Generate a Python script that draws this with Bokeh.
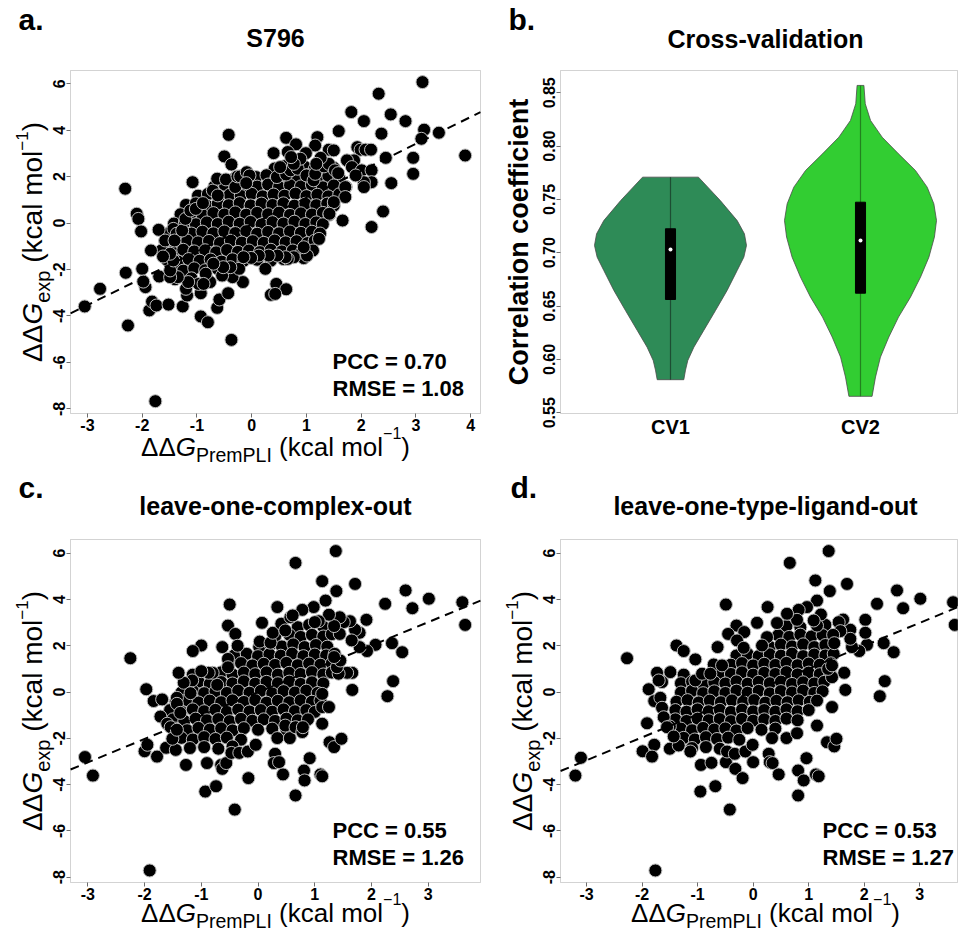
import math
from bokeh.plotting import figure
from bokeh.models import (Label, FixedTicker, LinearAxis, BoxAnnotation, Range1d,
                          PrintfTickFormatter)
from bokeh.layouts import gridplot
from bokeh.embed import file_html
from bokeh.resources import INLINE

FONT = "Liberation Sans"

# ---------------- data ----------------
# Panel a: S796, predicted (x) vs experimental (y)
A_OUTER = [(3.12,6.07),(2.32,5.57),(1.82,4.78),(2.54,4.68),(2.05,4.39),(2.81,4.39),(1.59,3.96),(3.15,4.02),
 (3.42,3.89),(2.37,3.85),(3.10,3.63),(3.90,2.91),(2.95,2.81),(2.45,2.81),(2.95,2.12),(2.55,1.72),(2.40,0.50),
 (2.19,-0.17),(1.66,0.11),(-0.42,3.80),(-0.50,2.87),(-0.37,2.52),(-2.31,1.48),(-1.08,1.76),(-2.10,0.40),
 (-2.07,0.18),(-2.02,-0.36),(-1.70,-0.29),(-2.30,-2.14),(-2.00,-1.97),(-2.77,-2.83),(-3.05,-3.59),(-2.26,-4.41),
 (-1.94,-2.76),(-1.98,-2.52),(-1.87,-3.76),(-1.82,-3.38),(-1.74,-3.55),(-1.52,-3.51),(-1.69,-2.30),(-1.84,-1.18),
 (-1.26,-3.59),(-0.93,-4.02),(-0.80,-4.27),(-0.37,-5.03),(-1.76,-7.67),(-0.63,-3.65),(-0.59,-3.29),(-0.43,-3.02),
 (-0.93,-3.02),(-1.18,-3.12),(-1.20,-2.83),(0.35,-3.09),(0.45,-2.62),(0.63,-2.85),(0.43,-3.05),(0.25,-1.97),
 (-0.76,-2.54),(-0.16,-2.54),(-0.35,-2.33),(-0.54,-2.26),(-0.23,-1.97),(0.40,3.01),(0.63,3.67),(1.20,3.70),
 (1.16,3.34),(0.81,3.39),(0.66,3.06),(0.99,3.01),(1.41,3.16),(1.50,3.13),(1.93,3.27),(1.99,3.16),(2.08,3.16),
 (2.18,3.16),(1.87,2.70),(1.74,2.70),(1.83,2.41),(2.01,2.27),(2.19,2.27),(2.19,1.76),(2.05,1.76),(2.05,1.55),
 (1.90,2.05),(1.71,1.55),(1.71,1.12),(1.50,0.90),(1.42,0.40),(1.23,-0.68),(1.12,-1.18),(0.95,-1.51),(1.01,-1.40),
 (0.95,-1.04),(0.77,-1.47),(0.66,-1.54),(0.62,-1.47),(0.47,-1.40),(0.31,-1.40),(0.13,-1.40),(-0.01,-1.50),
 (-0.15,-1.47),(-0.39,-1.90),(-0.52,-1.90),(-0.70,-1.75),(-0.84,-2.18),(-0.97,-2.62),(-0.88,-2.62),(-1.16,-2.54),
 (-1.35,-2.33),(-1.49,-2.33),(-1.49,-2.04),(-1.43,-1.61),(-1.49,-1.32),(-1.62,-1.44),(-1.58,-0.75),(-1.43,-0.25),
 (-1.37,-0.46),(-1.41,-0.75),(-1.27,-0.32),(-1.21,0.18),(-1.12,0.54),(-1.02,0.61),(-0.89,0.86),(-0.71,1.40),
 (-0.62,1.19),(-0.63,1.91),(-0.47,1.88),(-0.30,1.55),(-0.26,2.01),(-0.21,2.01),(-0.09,2.19),(-0.04,2.05),
 (-0.10,1.72),(0.46,1.98),(0.63,2.09),(0.71,2.27),(0.84,2.34),(1.00,2.05),(1.13,1.84),(1.16,2.12),(1.32,2.44),
 (1.41,2.55),(1.52,2.27),(1.58,2.15),(1.26,2.81),(1.18,2.55),(0.89,2.77),(0.77,2.55),(0.72,2.84),(0.52,2.41)]
A_CORE = [(0.42,2.35),(0.60,2.45),(0.78,2.38),(0.97,2.42),(1.15,2.33),(1.33,2.45),(1.50,2.38),
 (-0.30,1.95),(-0.12,2.05),(0.08,1.98),(0.27,2.06),(0.45,1.94),(0.64,2.02),(0.83,1.96),(1.02,2.07),(1.20,1.97),(1.40,2.03),(1.60,1.95),
 (-0.68,1.58),(-0.49,1.65),(-0.30,1.55),(-0.10,1.62),(0.10,1.57),(0.30,1.66),(0.50,1.55),(0.70,1.63),(0.90,1.58),(1.10,1.65),(1.30,1.54),(1.50,1.62),(1.72,1.56),
 (-0.98,1.18),(-0.80,1.25),(-0.60,1.15),(-0.40,1.22),(-0.20,1.17),(0.00,1.26),(0.20,1.15),(0.40,1.23),(0.60,1.18),(0.80,1.27),(1.00,1.16),(1.20,1.22),(1.40,1.15),(1.60,1.24),
 (-1.20,0.78),(-1.02,0.85),(-0.82,0.75),(-0.62,0.83),(-0.42,0.77),(-0.22,0.86),(-0.02,0.76),(0.18,0.84),(0.38,0.78),(0.58,0.85),(0.78,0.75),(0.98,0.83),(1.18,0.77),(1.38,0.84),(1.50,0.75),
 (-1.30,0.38),(-1.10,0.45),(-0.90,0.35),(-0.70,0.43),(-0.50,0.37),(-0.30,0.46),(-0.10,0.36),(0.10,0.44),(0.30,0.38),(0.50,0.45),(0.70,0.35),(0.90,0.42),(1.10,0.37),(1.30,0.44),(1.42,0.36),
 (-1.42,-0.02),(-1.22,0.05),(-1.02,-0.05),(-0.82,0.03),(-0.62,-0.04),(-0.42,0.06),(-0.22,-0.03),(-0.02,0.05),(0.18,-0.06),(0.38,0.04),(0.58,-0.02),(0.78,0.06),(0.98,-0.04),(1.18,0.03),(1.30,-0.05),
 (-1.50,-0.42),(-1.30,-0.35),(-1.10,-0.45),(-0.90,-0.37),(-0.70,-0.44),(-0.50,-0.36),(-0.30,-0.43),(-0.10,-0.35),(0.10,-0.46),(0.30,-0.38),(0.50,-0.44),(0.70,-0.36),(0.90,-0.42),(1.10,-0.37),(1.25,-0.45),
 (-1.58,-0.78),(-1.38,-0.85),(-1.18,-0.75),(-0.98,-0.83),(-0.78,-0.77),(-0.58,-0.86),(-0.38,-0.76),(-0.18,-0.84),(0.02,-0.78),(0.22,-0.85),(0.42,-0.75),(0.62,-0.83),(0.82,-0.78),(1.02,-0.86),(1.15,-0.76),
 (-1.65,-1.18),(-1.45,-1.25),(-1.25,-1.15),(-1.05,-1.22),(-0.85,-1.17),(-0.65,-1.26),(-0.45,-1.16),(-0.25,-1.24),(-0.05,-1.18),(0.15,-1.25),(0.35,-1.15),(0.55,-1.22),(0.75,-1.18),(0.92,-1.25),
 (-1.55,-1.58),(-1.35,-1.65),(-1.15,-1.55),(-0.95,-1.62),(-0.75,-1.57),(-0.55,-1.66),(-0.35,-1.56),(-0.15,-1.63),(0.10,-1.58),(0.35,-1.62),(0.58,-1.55),
 (-1.45,-1.98),(-1.25,-2.05),(-1.05,-1.95),(-0.85,-2.03),(-0.62,-1.97),(-0.45,-2.06),
 (-1.40,-2.42),(-1.10,-2.38),(-0.80,-2.45)]

# Panel c: leave-one-complex-out
C_OUTER = [(1.37,6.09),(0.66,5.58),(1.13,4.79),(1.71,4.67),(1.38,4.36),(2.60,4.39),(3.01,4.03),(3.60,3.88),
 (3.65,2.90),(2.24,3.81),(2.72,3.62),(1.19,3.95),(0.98,3.67),(0.78,3.55),(0.34,3.67),(-0.50,3.78),(-0.53,2.87),
 (-0.40,2.51),(-0.36,2.00),(-1.00,2.01),(-1.15,1.77),(-2.25,1.46),(-1.97,0.12),(-1.84,-0.39),(-1.69,-0.32),
 (-1.72,-1.06),(-2.00,-2.56),(-1.95,-2.28),(-1.78,-2.79),(-3.05,-2.81),(-2.91,-3.61),(-1.62,-2.41),(-1.45,-2.50),
 (-1.27,-3.15),(-0.90,-3.07),(-0.93,-4.30),(-0.74,-4.07),(-0.65,-3.15),(-0.63,-3.32),(-0.56,-3.07),(-0.47,-2.63),
 (-0.33,-2.63),(-0.17,-3.72),(-0.41,-5.08),(-1.91,-7.71),(-0.18,-2.57),(-0.04,-2.28),(0.30,-2.67),(0.28,-3.07),
 (0.37,-3.03),(0.44,-3.56),(0.66,-4.47),(0.81,-3.39),(0.82,-3.82),(0.91,-2.86),(1.10,-3.56),(1.13,-3.64),
 (1.26,-2.17),(1.34,-2.38),(1.47,-2.02),(0.34,-1.99),(0.56,-1.99),(0.48,-1.45),(0.66,-1.52),(0.78,-1.73),
 (0.79,-1.52),(1.13,-1.37),(1.13,-0.65),(1.25,-0.65),(1.13,-0.08),(1.66,0.09),(1.66,0.83),(1.57,0.83),(1.42,0.79),
 (1.39,1.07),(1.45,1.36),(1.34,1.51),(2.28,-0.18),(2.38,0.47),(2.54,1.72),(2.36,2.11),(2.07,2.04),(1.92,1.77),
 (1.79,1.94),(1.91,3.12),(1.79,2.56),(1.71,2.69),(1.65,2.23),(1.62,3.06),(1.51,3.02),(1.44,3.23),(1.44,2.51),
 (1.34,2.85),(1.25,3.34),(1.07,3.06),(1.00,3.02),(0.07,2.99),(0.03,2.18),(0.22,2.13),(0.26,2.56),(0.41,2.95),
 (0.48,2.66),(0.57,3.23),(0.61,3.31),(-0.63,1.94),(-0.53,1.43),(-0.53,1.07),(-0.72,0.31),(-0.80,0.83),(-0.87,0.83),
 (-1.00,0.90),(-1.16,0.50),(-1.31,0.40),(-1.40,0.83),(-1.19,-0.05),(-1.43,-0.25),(-1.43,-0.51),(-1.60,-1.37),
 (-1.54,-1.52),(-1.51,-2.02),(-1.43,-1.63),(-1.37,-0.90)]
C_CORE = [(0.70,2.80),(0.90,2.90),(1.15,2.82),
 (0.30,2.40),(0.55,2.48),(0.75,2.38),(0.95,2.47),(1.15,2.40),(1.30,2.50),
 (0.02,1.95),(0.22,2.05),(0.42,1.97),(0.62,2.06),(0.82,1.94),(1.02,2.03),(1.22,1.96),
 (-0.42,1.58),(-0.20,1.65),(0.00,1.55),(0.20,1.63),(0.40,1.57),(0.60,1.66),(0.80,1.55),(1.00,1.62),(1.20,1.58),(1.35,1.65),
 (-0.52,1.18),(-0.30,1.25),(-0.10,1.15),(0.10,1.22),(0.30,1.17),(0.50,1.26),(0.70,1.16),(0.90,1.23),(1.10,1.18),(1.30,1.24),
 (-1.15,0.75),(-0.65,0.85),(-0.45,0.76),(-0.25,0.84),(-0.05,0.77),(0.15,0.85),(0.35,0.75),(0.55,0.83),(0.75,0.78),(0.95,0.86),(1.15,0.76),(1.30,0.84),
 (-1.25,0.38),(-1.05,0.45),(-0.85,0.35),(-0.65,0.43),(-0.45,0.37),(-0.25,0.46),(-0.05,0.36),(0.15,0.44),(0.35,0.38),(0.55,0.45),(0.75,0.35),(0.95,0.42),(1.15,0.37),
 (-1.35,-0.02),(-1.15,0.05),(-0.95,-0.05),(-0.75,0.03),(-0.55,-0.04),(-0.35,0.06),(-0.15,-0.03),(0.05,0.05),(0.25,-0.06),(0.45,0.04),(0.65,-0.02),(0.85,0.06),(1.05,-0.04),
 (-1.45,-0.42),(-1.25,-0.35),(-1.05,-0.45),(-0.85,-0.37),(-0.65,-0.44),(-0.45,-0.36),(-0.25,-0.43),(-0.05,-0.35),(0.15,-0.46),(0.35,-0.38),(0.55,-0.44),(0.75,-0.36),(0.95,-0.42),(1.10,-0.37),
 (-1.55,-0.78),(-1.35,-0.85),(-1.15,-0.75),(-0.95,-0.83),(-0.75,-0.77),(-0.55,-0.86),(-0.35,-0.76),(-0.15,-0.84),(0.05,-0.78),(0.25,-0.85),(0.45,-0.75),(0.65,-0.83),(0.85,-0.78),(1.00,-0.86),
 (-1.50,-1.18),(-1.30,-1.25),(-1.10,-1.15),(-0.90,-1.22),(-0.70,-1.17),(-0.50,-1.26),(-0.30,-1.16),(-0.10,-1.24),(0.10,-1.18),(0.30,-1.25),(0.50,-1.15),(0.70,-1.22),(0.88,-1.18),
 (-1.45,-1.58),(-1.25,-1.65),(-1.05,-1.55),(-0.85,-1.62),(-0.65,-1.57),(-0.45,-1.66),(-0.25,-1.56),(0.00,-1.63),(0.25,-1.58),(0.50,-1.62),
 (-1.35,-1.98),(-1.15,-2.05),(-0.95,-1.95),(-0.75,-2.03),(-0.55,-1.97),(-0.30,-2.06),
 (-1.20,-2.42),(-0.95,-2.38),(-0.70,-2.45),(-0.45,-2.35)]

# Panel d: leave-one-type-ligand-out
D_OUTER = [(1.36,6.09),(0.66,5.58),(1.12,4.82),(1.69,4.67),(1.38,4.36),(2.59,4.39),(3.01,4.03),(3.60,3.88),
 (3.63,2.90),(2.23,3.81),(2.70,3.62),(1.15,3.95),(0.97,3.67),(0.82,3.55),(0.26,3.67),(-0.49,3.78),(-0.30,2.87),
 (-0.45,2.51),(-0.16,2.59),(0.07,2.99),(-1.38,2.01),(-1.25,1.77),(-2.27,1.46),(-1.04,1.41),(-1.88,0.12),
 (-1.78,-0.39),(-1.67,-0.25),(-1.91,-1.35),(-1.99,-2.56),(-1.78,-2.28),(-1.82,-2.79),(-3.10,-2.84),(-3.20,-3.61),
 (-1.50,-2.45),(-1.34,-2.31),(-1.13,-2.57),(-0.94,-3.15),(-0.95,-4.30),(-0.68,-4.07),(-0.75,-3.06),(-0.49,-3.03),
 (-0.32,-3.32),(-0.19,-3.72),(-0.42,-5.08),(-1.76,-7.71),(-0.47,-2.57),(-0.33,-2.67),(-0.14,-2.57),(0.00,-3.03),
 (-0.01,-2.28),(0.28,-2.67),(0.30,-3.03),(0.35,-3.07),(0.46,-3.56),(0.81,-4.47),(0.81,-3.39),(0.91,-3.82),
 (0.96,-2.86),(1.13,-3.56),(1.18,-3.64),(1.33,-2.17),(1.46,-2.35),(1.50,-2.02),(0.34,-1.99),(0.60,-1.99),
 (0.79,-1.78),(1.15,-1.45),(1.42,-0.65),(1.66,0.09),(1.64,0.83),(1.42,0.64),(1.35,1.00),(1.42,1.15),(2.37,0.47),
 (2.28,-0.18),(2.53,1.72),(2.35,2.11),(2.05,2.04),(1.91,1.77),(1.78,1.94),(2.02,3.12),(2.02,2.56),(1.75,2.69),
 (1.75,2.30),(1.62,3.13),(1.54,3.02),(1.22,3.35),(1.57,2.63),(1.44,2.47),(1.46,2.11),(1.15,2.87),(1.09,3.09),
 (0.79,3.12),(0.43,2.98),(0.61,3.38),(0.25,2.37),(0.16,2.01),(-0.64,1.94),(-0.29,2.23),(-0.17,1.91),(-0.71,1.19),
 (-0.56,1.15),(-1.04,0.50),(-0.92,0.79),(-0.77,0.79),(-1.73,0.83),(-1.49,0.86),(-1.64,0.43),(-1.70,0.50),
 (-1.64,-0.68),(-1.61,-1.09),(-1.50,-1.49),(-1.55,-1.52),(-1.43,-1.92)]
D_CORE = [(0.60,2.85),(0.85,2.80),(1.30,2.90),
 (0.45,2.45),(0.65,2.38),(0.85,2.48),(1.05,2.40),(1.25,2.46),
 (0.30,1.95),(0.50,2.05),(0.70,1.97),(0.90,2.06),(1.10,1.94),(1.30,2.03),
 (-0.30,1.58),(-0.10,1.65),(0.10,1.55),(0.30,1.63),(0.50,1.57),(0.70,1.66),(0.90,1.55),(1.10,1.62),(1.30,1.58),(1.45,1.65),
 (-0.40,1.18),(-0.20,1.25),(0.00,1.15),(0.20,1.22),(0.40,1.17),(0.60,1.26),(0.80,1.16),(1.00,1.23),(1.20,1.18),(1.40,1.24),
 (-1.25,0.75),(-0.60,0.83),(-0.40,0.78),(-0.20,0.85),(0.00,0.75),(0.20,0.83),(0.40,0.78),(0.60,0.86),(0.80,0.76),(1.00,0.84),(1.20,0.77),(1.38,0.85),
 (-1.30,0.38),(-1.10,0.45),(-0.90,0.35),(-0.70,0.43),(-0.50,0.37),(-0.30,0.46),(-0.10,0.36),(0.10,0.44),(0.30,0.38),(0.50,0.45),(0.70,0.35),(0.90,0.42),(1.10,0.37),(1.28,0.44),
 (-1.30,-0.02),(-1.10,0.05),(-0.90,-0.05),(-0.70,0.03),(-0.50,-0.04),(-0.30,0.06),(-0.10,-0.03),(0.10,0.05),(0.30,-0.06),(0.50,0.04),(0.70,-0.02),(0.90,0.06),(1.10,-0.04),(1.25,0.03),
 (-1.38,-0.42),(-1.18,-0.35),(-0.98,-0.45),(-0.78,-0.37),(-0.58,-0.44),(-0.38,-0.36),(-0.18,-0.43),(0.02,-0.35),(0.22,-0.46),(0.42,-0.38),(0.62,-0.44),(0.82,-0.36),(1.02,-0.42),(1.15,-0.37),
 (-1.40,-0.78),(-1.20,-0.85),(-1.00,-0.75),(-0.80,-0.83),(-0.60,-0.77),(-0.40,-0.86),(-0.20,-0.76),(0.00,-0.84),(0.20,-0.78),(0.40,-0.85),(0.60,-0.75),(0.80,-0.83),(1.00,-0.78),
 (-1.40,-1.18),(-1.20,-1.25),(-1.00,-1.15),(-0.80,-1.22),(-0.60,-1.17),(-0.40,-1.26),(-0.20,-1.16),(0.00,-1.24),(0.20,-1.18),(0.40,-1.25),(0.60,-1.15),(0.80,-1.22),
 (-1.30,-1.58),(-1.10,-1.65),(-0.90,-1.55),(-0.70,-1.62),(-0.50,-1.57),(-0.30,-1.66),(-0.10,-1.56),(0.15,-1.63),(0.40,-1.58),
 (-1.25,-1.98),(-1.05,-2.05),(-0.85,-1.95),(-0.65,-2.03),(-0.45,-1.97),(-0.25,-2.06),
 (-1.10,-2.42),(-0.85,-2.38),(-0.60,-2.45)]

# regression lines (intercept, slope) and statistics
A_FIT = (-0.06, 1.157)
C_FIT = (-0.01, 1.01)
D_FIT = (0.02, 0.99)
STATS = {"a": ("0.70", "1.08"), "c": ("0.55", "1.26"), "d": ("0.53", "1.27")}
TITLES = {"a": "S796", "b": "Cross-validation", "c": "leave-one-complex-out", "d": "leave-one-type-ligand-out"}
SCATTER_YTICKS = [-8, -6, -4, -2, 0, 2, 4, 6]

# Panel b: violin profiles (value, half-width) and box statistics
CV_NAMES = ["CV1", "CV2"]
CV1_LEVELS = [0.581, 0.590, 0.599, 0.6115, 0.6272, 0.6459, 0.6647, 0.6834, 0.6959, 0.7069, 0.7178, 0.7302, 0.749, 0.7709]
CV1_HALF   = [0.070, 0.079, 0.091, 0.123, 0.175, 0.237, 0.298, 0.351, 0.386, 0.400, 0.389, 0.351, 0.262, 0.147]
CV2_LEVELS = [0.5654, 0.5835, 0.6022, 0.621, 0.6397, 0.6584, 0.6772, 0.6959, 0.7147, 0.7303, 0.7459, 0.7615, 0.7772, 0.7928, 0.8084, 0.824, 0.8397, 0.8569]
CV2_HALF   = [0.061, 0.079, 0.105, 0.149, 0.200, 0.263, 0.316, 0.360, 0.389, 0.400, 0.386, 0.351, 0.289, 0.200, 0.114, 0.053, 0.025, 0.018]
CV_Q1 = [0.6562, 0.6621]
CV_Q3 = [0.7225, 0.7474]
CV_MED = [0.703, 0.7115]
CV_FILL = ["#2E8B57", "#32CD32"]
CV_MID = ["#1d4d33", "#23801f"]
CV_YTICKS = [0.55, 0.60, 0.65, 0.70, 0.75, 0.80, 0.85]

# ---------------- helpers ----------------
NB = "\u00a0"
ADV = {"Δ": 0.668, "G": 0.778, "P": 0.667, "r": 0.333, "e": 0.556, "m": 0.833, "L": 0.556, "I": 0.278,
       " ": 0.278, NB: 0.278, "(": 0.333, ")": 0.333, "k": 0.5, "c": 0.5, "a": 0.556, "l": 0.222,
       "o": 0.556, "x": 0.5, "p": 0.556, "−": 0.584, "1": 0.556}
MID = 0.35   # distance from alphabetic baseline to the em-box middle, in em


def tw(s, size):
    return sum(ADV.get(ch, 0.556) for ch in s) * size


class Panel:
    """A figure whose frame covers the whole canvas; the R-style plot box is drawn inside."""

    def __init__(self, w, h, box_px, box_data, xticks, yticks, xfmt, yfmt):
        L, R, T, B = box_px
        xlo, xhi, ylo, yhi = box_data
        ux = (xhi - xlo) / (R - L)
        uy = (yhi - ylo) / (B - T)
        self.ox, self.oy = L, h - B          # box origin (screen, from bottom-left)
        self.box = box_data
        p = figure(width=w, height=h,
                   x_range=Range1d(xlo - L * ux, xhi + (w - R) * ux),
                   y_range=Range1d(ylo - (h - B) * uy, yhi + T * uy),
                   output_backend="svg", toolbar_location=None,
                   x_axis_location=None, y_axis_location=None, min_border=0)
        p.outline_line_color = None
        p.background_fill_color = "white"
        p.border_fill_color = "white"
        p.xgrid.visible = False
        p.ygrid.visible = False
        xa = LinearAxis(fixed_location=ylo, ticker=FixedTicker(ticks=xticks), formatter=xfmt)
        ya = LinearAxis(fixed_location=xlo, ticker=FixedTicker(ticks=yticks), formatter=yfmt)
        for ax in (xa, ya):
            ax.axis_line_color = None
            ax.major_tick_line_color = "#6e6e6e"
            ax.major_tick_out = 4
            ax.major_tick_in = 0
            ax.minor_tick_line_color = None
            ax.major_label_text_font = FONT
            ax.major_label_text_font_style = "bold"
            ax.major_label_text_font_size = "16px"
            ax.major_label_text_color = "black"
            ax.major_label_standoff = 1
        ya.major_label_orientation = "vertical"
        p.add_layout(xa, "below")
        p.add_layout(ya, "left")
        self.xaxis, self.yaxis = xa, ya
        self.p = p

    def frame_box(self):
        xlo, xhi, ylo, yhi = self.box
        self.p.add_layout(BoxAnnotation(left=xlo, right=xhi, bottom=ylo, top=yhi, fill_color=None,
                                        line_color="#6e6e6e", line_width=1))

    def label(self, dx, dy, text, size, style="normal", align="left", vertical=False):
        # (dx, dy): position of the alphabetic baseline relative to the plot box origin
        if vertical:
            x, y, ang = self.ox + dx - MID * size, self.oy + dy, math.pi / 2
        else:
            x, y, ang = self.ox + dx, self.oy + dy + MID * size, 0.0
        self.p.add_layout(Label(x=x, y=y, x_units="screen", y_units="screen",
                                text=text, text_font=FONT, text_font_size=f"{size}px",
                                text_font_style=style, text_align=align, text_baseline="middle",
                                angle=ang, text_color="black"))

    def rich(self, pieces, center, base, vertical=False):
        total = sum(tw(t, s) for t, s, st, sh in pieces)
        pos = center - total / 2.0
        for t, s, st, sh in pieces:
            if vertical:
                self.label(base + sh, pos, t, s, st, vertical=True)
            else:
                self.label(pos, base - sh, t, s, st)
            pos += tw(t, s)


XLAB = [("ΔΔ", 26, "normal", 0), ("G", 26, "italic", 0), ("PremPLI", 19.5, "normal", 5),
        (NB + "(kcal mol", 26, "normal", 0), ("−1", 16, "normal", -18), (")", 26, "normal", 0)]
YLAB = [("ΔΔ", 28, "normal", 0), ("G", 28, "italic", 0), ("exp", 20, "normal", 7),
        (NB + "(kcal mol", 28, "normal", 0), ("−1", 17, "normal", -15), (")", 28, "normal", 0)]
BOX_H = 343
INT_FMT = PrintfTickFormatter(format="%d")


def scatter_panel(w, h, box_px, box_data, xticks, outer, core, fit, key, letter_dx, title_dy, letter_dy,
                  stat_dx, xlab_dy):
    pn = Panel(w, h, box_px, box_data, xticks, SCATTER_YTICKS, INT_FMT, INT_FMT)
    p = pn.p
    pts = core + outer
    xs = [q[0] for q in pts]
    ys = [q[1] for q in pts]
    p.scatter(xs, ys, size=13, marker="circle", fill_color="black", line_color="#bdbdbd", line_width=1)
    xlo, xhi = box_data[0], box_data[1]
    b0, b1 = fit
    p.segment(x0=[xlo], y0=[b0 + b1 * xlo], x1=[xhi], y1=[b0 + b1 * xhi],
              line_color="black", line_width=2, line_dash="9 6")
    pn.frame_box()
    pcc, rmse = STATS[key]
    pn.label(stat_dx, 44, f"PCC = {pcc}", 22, "bold")
    pn.label(stat_dx, 17, f"RMSE = {rmse}", 22, "bold")
    pn.label(letter_dx, letter_dy, f"{key}.", 30, "bold")
    pn.label(205, title_dy, TITLES[key], 25, "bold", align="center")
    pn.rich(XLAB, 205, xlab_dy)
    pn.rich(YLAB, BOX_H / 2.0, -28, vertical=True)
    return p


# ---------------- panel a ----------------
pa = scatter_panel(481, 471, (70, 480, 70, 413), (-3.31, 4.18, -8.20, 6.57), [-3, -2, -1, 0, 1, 2, 3, 4],
                   A_OUTER, A_CORE, A_FIT, "a", -52, 367, 384, 262, -43)

# ---------------- panel b ----------------
bn = Panel(477, 471, (79, 476, 70, 413), (0.4211, 2.5105, 0.5493, 0.8709), [1, 2], CV_YTICKS,
           PrintfTickFormatter(format="%d"), PrintfTickFormatter(format="%.2f"))
pb = bn.p
bn.xaxis.major_label_overrides = {1: CV_NAMES[0], 2: CV_NAMES[1]}
bn.xaxis.major_tick_out = 0
bn.xaxis.major_label_text_font_size = "20px"
bn.xaxis.major_label_standoff = 2
for i, (lv, hw) in enumerate([(CV1_LEVELS, CV1_HALF), (CV2_LEVELS, CV2_HALF)]):
    c = i + 1
    px = [c - h for h in hw] + [c + h for h in reversed(hw)]
    py = list(lv) + list(reversed(lv))
    pb.patch(px, py, fill_color=CV_FILL[i], line_color="#4a4a4a", line_width=0.8)
    pb.segment(x0=[c], y0=[lv[0]], x1=[c], y1=[lv[-1]], line_color=CV_MID[i], line_width=1.2)
    pb.vbar(x=[c], width=0.053, bottom=[CV_Q1[i]], top=[CV_Q3[i]], fill_color="black", line_color="black")
    pb.scatter([c], [CV_MED[i]], size=4, marker="circle", fill_color="white", line_color=None)
bn.frame_box()
bn.label(-52, 384, "b.", 30, "bold")
bn.label(205, 366, TITLES["b"], 25, "bold", align="center")
bn.label(-32, BOX_H / 2.0, "Correlation coefficient", 27, "bold", align="center", vertical=True)

# ---------------- panel c ----------------
pc = scatter_panel(481, 464, (70, 480, 68, 411), (-3.305, 3.92, -8.23, 6.59), [-3, -2, -1, 0, 1, 2, 3],
                   C_OUTER, C_CORE, C_FIT, "c", -52, 368, 385, 262, -40)

# ---------------- panel d ----------------
pd = scatter_panel(477, 464, (79, 476, 68, 411), (-3.468, 3.679, -8.23, 6.59), [-3, -2, -1, 0, 1, 2, 3],
                   D_OUTER, D_CORE, D_FIT, "d", -50, 368, 385, 262, -40)

grid = gridplot([[pa, pb], [pc, pd]], toolbar_location=None)

with open("out.html", "w") as f:
    f.write(file_html(grid, INLINE))
